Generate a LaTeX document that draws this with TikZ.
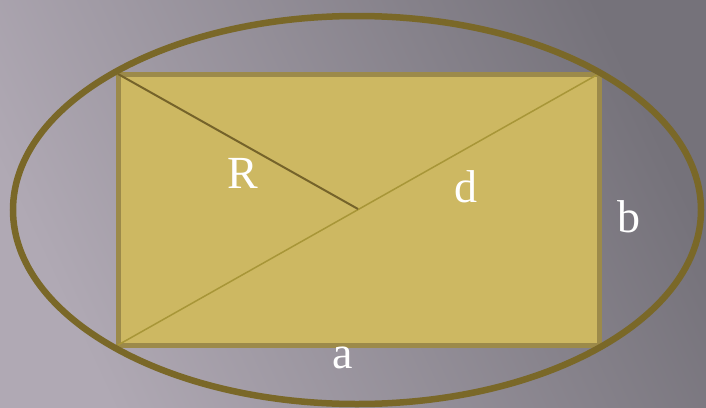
\documentclass[tikz,border=0pt]{standalone}
\usepackage{fontspec}
\setmainfont{Liberation Serif}
\begin{document}
\begin{tikzpicture}[x=1pt,y=-1pt,
  lbl/.style={text=white,font=\fontsize{46}{46}\selectfont,inner sep=0pt},
  rectbox/.style={fill=rectfill,draw=rectedge,line width=5pt}]
\definecolor{bgA}{HTML}{B0A9B4}
\definecolor{bgB}{HTML}{75727A}
\definecolor{rectfill}{HTML}{CDB862}
\definecolor{rectedge}{HTML}{9C8A4A}
\definecolor{ellcol}{HTML}{7A6828}
\definecolor{rcol}{HTML}{75632A}
\definecolor{dcol}{HTML}{A89638}
\useasboundingbox (0,0) rectangle (706,407);
\shade[shading=axis,top color=bgA,bottom color=bgB,shading angle=115] (0,0) rectangle (706,407);
\coordinate (tl) at (118,74);
\coordinate (br) at (599,345);
\coordinate (bl) at (118,345);
\coordinate (tr) at (602,72);
\coordinate (c) at (358,209);
\draw[rectbox] (tl) rectangle (br);
\draw[dcol,line width=1.5pt] (bl) -- (tr);
\draw[rcol,line width=2pt] (tl) -- (c);
\draw[ellcol,line width=6.5pt] (357,210) ellipse [x radius=344,y radius=194];
\node[lbl] (R) at (243,173) {R};
\node[lbl] (d) at (466,187) {d};
\node[lbl] (b) at (629,217) {b};
\node[lbl] (a) at (343,358) {a};
\end{tikzpicture}
\end{document}
